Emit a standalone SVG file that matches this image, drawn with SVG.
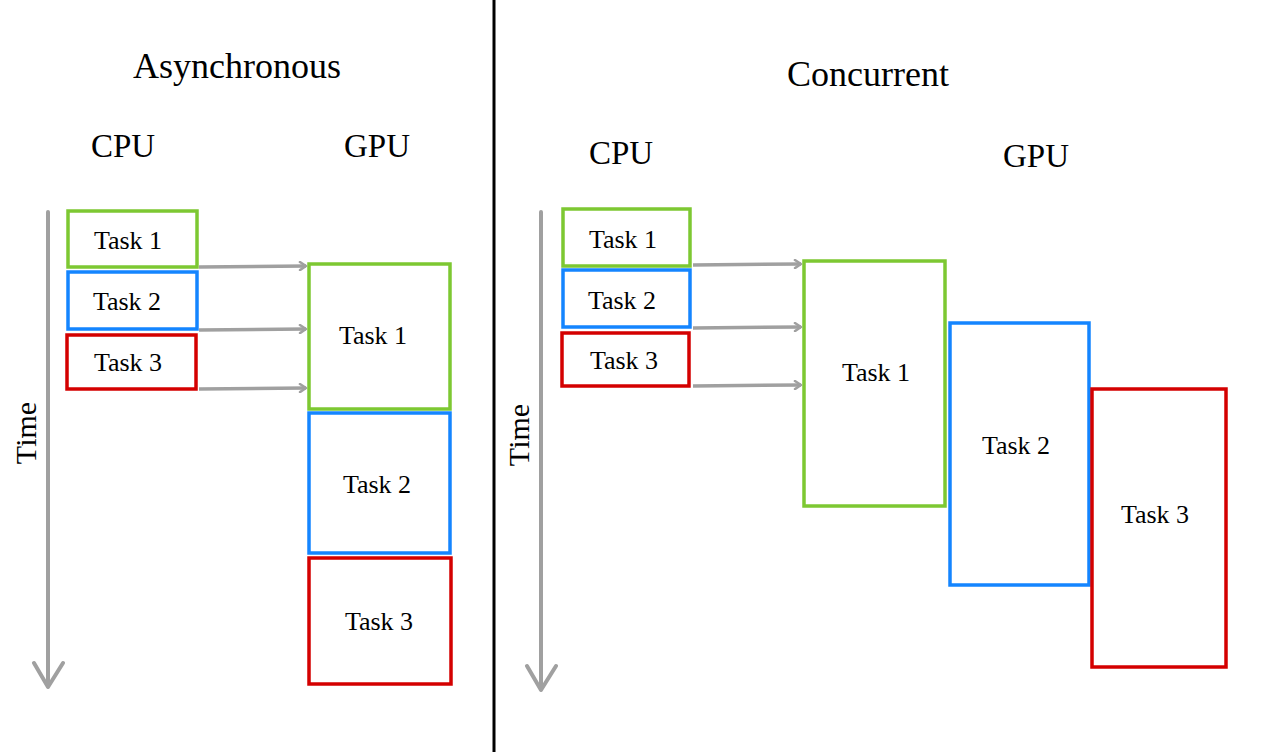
<svg xmlns="http://www.w3.org/2000/svg" width="1261" height="752" viewBox="0 0 1261 752">
<defs>
<marker id="ah" markerWidth="10" markerHeight="10" refX="8" refY="5" orient="auto" markerUnits="userSpaceOnUse">
<path d="M2,1 L8,5 L2,9" fill="none" stroke="#a0a0a0" stroke-width="2.5" stroke-linecap="round" stroke-linejoin="round"/>
</marker>
</defs>
<style>
text{font-family:"Liberation Serif","Times New Roman",serif;fill:#000;text-anchor:middle}
.t{font-size:26px}
.h{font-size:36px}
.s{font-size:33px}
.tm{font-size:30px}
.box{fill:#fff;stroke-width:3.5}
.g{stroke:#7dc832}
.b{stroke:#1485ff}
.r{stroke:#d40000}
.con{stroke:#a0a0a0;stroke-width:3.5;fill:none}
.tl{stroke:#a0a0a0;stroke-width:4;fill:none;stroke-linecap:round;stroke-linejoin:round}
</style>
<rect width="1261" height="752" fill="#fff"/>
<line x1="494" y1="0" x2="494" y2="752" stroke="#000" stroke-width="3"/>

<text class="h" x="237" y="78">Asynchronous</text>
<text class="s" x="123" y="157">CPU</text>
<text class="s" x="377" y="157">GPU</text>
<text class="h" x="868" y="86">Concurrent</text>
<text class="s" x="621" y="164">CPU</text>
<text class="s" x="1036" y="167">GPU</text>

<g id="time-left">
<path class="tl" d="M48,212 L48,685 M34,663 L48,687 L63,663"/>
<text class="tm" transform="translate(36,433) rotate(-90)">Time</text>
</g>
<g id="time-right">
<path class="tl" d="M541,212 L541,688 M527,666 L541,690 L556,666"/>
<text class="tm" transform="translate(529,435) rotate(-90)">Time</text>
</g>

<g id="connectors">
<line class="con" x1="199" y1="267" x2="306" y2="266" marker-end="url(#ah)"/>
<line class="con" x1="199" y1="330" x2="306" y2="329" marker-end="url(#ah)"/>
<line class="con" x1="199" y1="389" x2="306" y2="388" marker-end="url(#ah)"/>
<line class="con" x1="693" y1="265" x2="801" y2="264" marker-end="url(#ah)"/>
<line class="con" x1="693" y1="328" x2="801" y2="327" marker-end="url(#ah)"/>
<line class="con" x1="693" y1="386" x2="801" y2="385" marker-end="url(#ah)"/>
</g>

<g id="a-cpu-1"><rect class="box g" x="68" y="211" width="129" height="56"/><text class="t" x="128" y="249">Task 1</text></g>
<g id="a-cpu-2"><rect class="box b" x="68" y="272" width="129" height="57"/><text class="t" x="127" y="310">Task 2</text></g>
<g id="a-cpu-3"><rect class="box r" x="67" y="335" width="129" height="54"/><text class="t" x="128" y="371">Task 3</text></g>
<g id="a-gpu-1"><rect class="box g" x="309" y="264" width="141" height="145"/><text class="t" x="373" y="344">Task 1</text></g>
<g id="a-gpu-2"><rect class="box b" x="309" y="413" width="141" height="140"/><text class="t" x="377" y="493">Task 2</text></g>
<g id="a-gpu-3"><rect class="box r" x="309" y="558" width="142" height="126"/><text class="t" x="379" y="630">Task 3</text></g>

<g id="c-cpu-1"><rect class="box g" x="563" y="209" width="127" height="57"/><text class="t" x="623" y="248">Task 1</text></g>
<g id="c-cpu-2"><rect class="box b" x="563" y="270" width="127" height="57"/><text class="t" x="622" y="309">Task 2</text></g>
<g id="c-cpu-3"><rect class="box r" x="562" y="333" width="127" height="53"/><text class="t" x="624" y="369">Task 3</text></g>
<g id="c-gpu-1"><rect class="box g" x="804" y="261" width="141" height="245"/><text class="t" x="876" y="381">Task 1</text></g>
<g id="c-gpu-2"><rect class="box b" x="950" y="323" width="139" height="262"/><text class="t" x="1016" y="454">Task 2</text></g>
<g id="c-gpu-3"><rect class="box r" x="1092" y="389" width="134" height="278"/><text class="t" x="1155" y="523">Task 3</text></g>
</svg>
